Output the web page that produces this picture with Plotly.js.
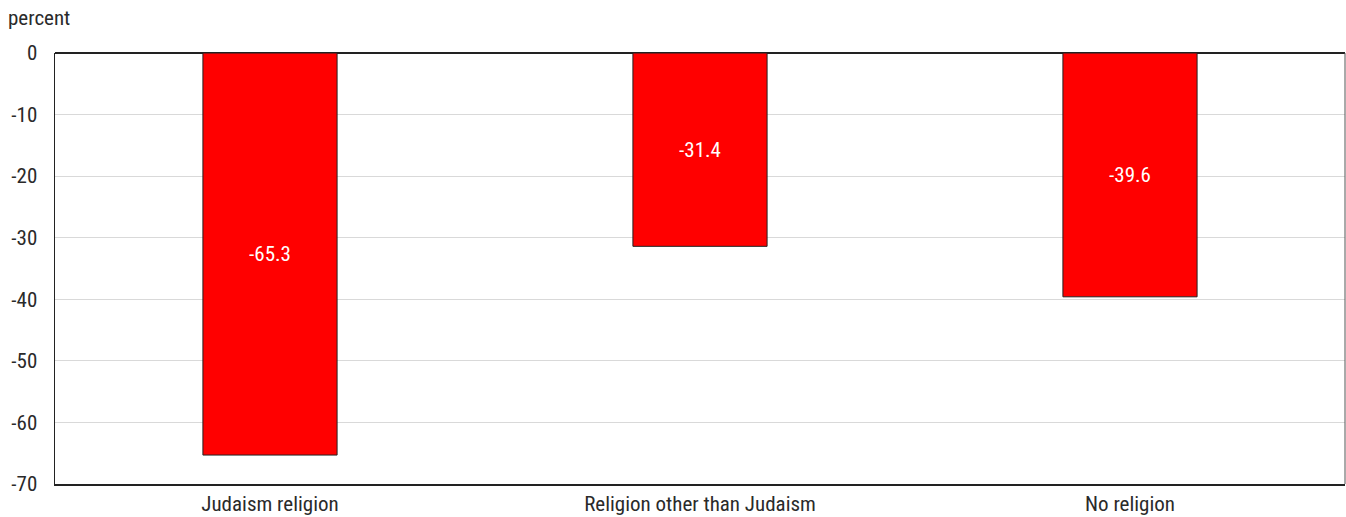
<!DOCTYPE html>
<html>
<head>
<meta charset="utf-8">
<script src="https://cdn.plot.ly/plotly-3.0.1.min.js"></script>
<style>html,body{margin:0;padding:0;background:#fff;}#chart{width:1346px;height:517px;}</style>
</head>
<body>
<div id="chart"></div>
<script>
const categories = ["Judaism religion", "Religion other than Judaism", "No religion"];
const values = [-65.3, -31.4, -39.6];
const valueLabels = ["-65.3", "-31.4", "-39.6"];
const yTickVals = [0, -10, -20, -30, -40, -50, -60, -70];

const FONT = "Roboto Condensed, DejaVu Sans Condensed, Liberation Sans Narrow, sans-serif";

const trace = {
  type: "bar",
  x: categories,
  y: values,
  text: valueLabels,
  textposition: "inside",
  insidetextanchor: "middle",
  textfont: {family: FONT, size: 21, color: "#ffffff"},
  marker: {color: "#ff0000", line: {color: "#222222", width: 1}},
  width: 0.312,
  hoverinfo: "none"
};

const layout = {
  width: 1346, height: 517,
  margin: {l: 55, r: 1, t: 53, b: 33},
  paper_bgcolor: "#ffffff", plot_bgcolor: "#ffffff",
  showlegend: false,
  font: {family: FONT, size: 20, color: "#2a2a2a"},
  xaxis: {
    type: "category",
    showgrid: false,
    showline: true, linecolor: "#222222", linewidth: 1.5,
    mirror: false,
    ticks: "", tickfont: {family: FONT, size: 21, color: "#2a2a2a"},
    ticklabelstandoff: 0,
    fixedrange: true
  },
  yaxis: {
    range: [-70, 0],
    tickvals: yTickVals,
    ticktext: yTickVals.map(String),
    showgrid: true, gridcolor: "#d9d9d9", gridwidth: 1,
    zeroline: true, zerolinecolor: "#222222", zerolinewidth: 1.5,
    showline: true, linecolor: "#222222", linewidth: 1.5,
    ticks: "", ticklen: 0,
    ticklabelstandoff: 12,
    tickfont: {family: FONT, size: 21, color: "#2a2a2a"},
    fixedrange: true
  },
  shapes: [{
    type: "line", xref: "paper", yref: "paper", x0: 1, x1: 1, y0: 0, y1: 1,
    line: {color: "#555555", width: 1}
  }],
  annotations: [{
    text: "percent", xref: "paper", yref: "paper",
    x: -49/1290, y: 1 + 35/431, xanchor: "left", yanchor: "middle",
    showarrow: false, font: {family: FONT, size: 21, color: "#2a2a2a"}
  }]
};

Plotly.newPlot("chart", [trace], layout, {displayModeBar: false, staticPlot: true});
</script>
</body>
</html>
